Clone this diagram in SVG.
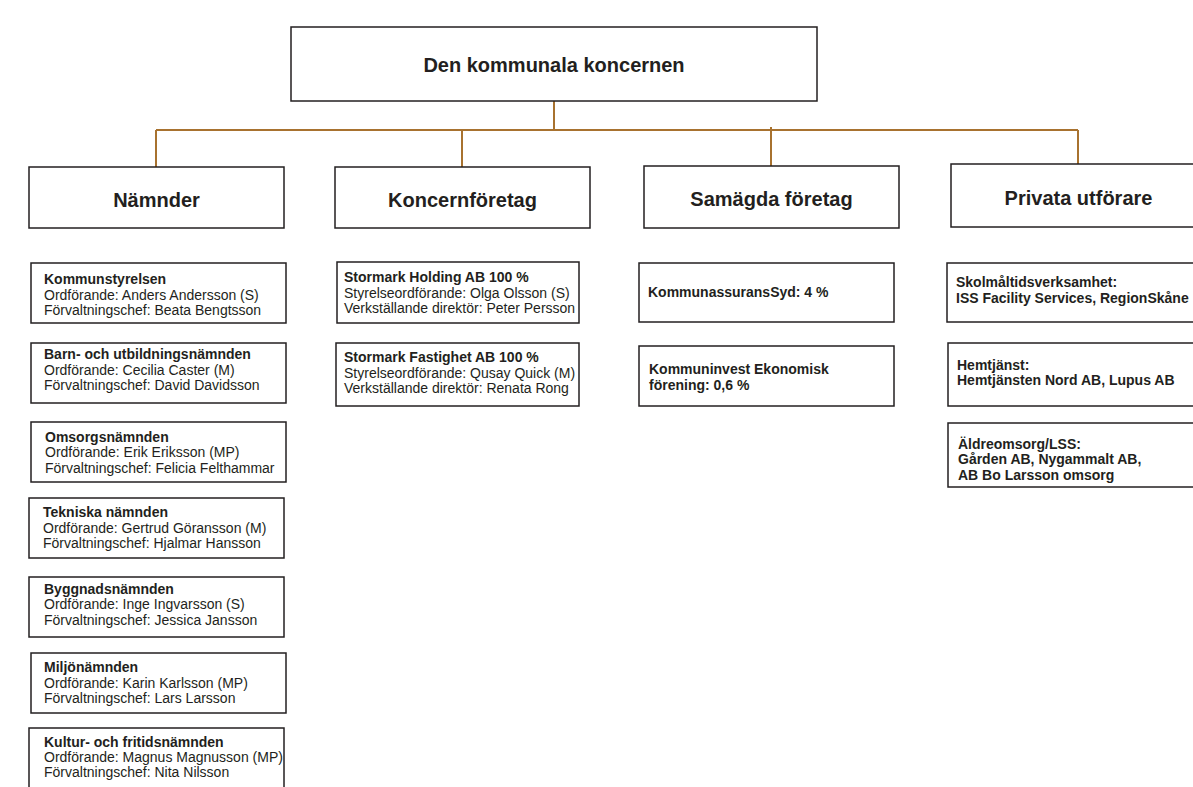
<svg xmlns="http://www.w3.org/2000/svg" width="1193" height="787" viewBox="0 0 1193 787">
<style>
.box{fill:#fff;stroke:#231F20;stroke-width:1.5}
.conn{fill:none;stroke:#A8722F;stroke-width:2}
text{font-family:"Liberation Sans",Arial,Helvetica,sans-serif;fill:#231F20}
.h1{font-size:20px;font-weight:bold;text-anchor:middle}
.b{font-size:14px;font-weight:bold}
.r{font-size:14px}
</style>
<rect width="1193" height="787" fill="#fff"/>
<g id="connectors">
<path class="conn" d="M554,101 V130"/>
<path class="conn" d="M156,130 H1078"/>
<path class="conn" d="M156,130 V167"/>
<path class="conn" d="M462,130 V167"/>
<path class="conn" d="M771,127 V166"/>
<path class="conn" d="M1078,130 V164"/>
</g>
<g id="root">
<rect class="box" x="291" y="27" width="526" height="74"/>
<text class="h1" x="554" y="72">Den kommunala koncernen</text>
</g>
<g id="namnder">
<rect class="box" x="29" y="167" width="255" height="61"/>
<text class="h1" x="156.5" y="207">Nämnder</text>
</g>
<g id="koncernforetag">
<rect class="box" x="335" y="167" width="255" height="61"/>
<text class="h1" x="462.5" y="207">Koncernföretag</text>
</g>
<g id="samagda">
<rect class="box" x="644" y="166" width="255" height="62"/>
<text class="h1" x="771.5" y="206">Samägda företag</text>
</g>
<g id="privata">
<rect class="box" x="951" y="164" width="255" height="63"/>
<text class="h1" x="1078.5" y="205">Privata utförare</text>
</g>
<g id="kommunstyrelsen">
<rect class="box" x="31" y="263" width="255" height="60"/>
<text class="b" x="44" y="284">Kommunstyrelsen</text>
<text class="r" x="44" y="300">Ordförande: Anders Andersson (S)</text>
<text class="r" x="44" y="315">Förvaltningschef: Beata Bengtsson</text>
</g>
<g id="barn">
<rect class="box" x="31" y="343" width="255" height="60"/>
<text class="b" x="44" y="359">Barn- och utbildningsnämnden</text>
<text class="r" x="44" y="375">Ordförande: Cecilia Caster (M)</text>
<text class="r" x="44" y="390">Förvaltningschef: David Davidsson</text>
</g>
<g id="omsorg">
<rect class="box" x="31" y="422" width="255" height="60"/>
<text class="b" x="45" y="442">Omsorgsnämnden</text>
<text class="r" x="45" y="457">Ordförande: Erik Eriksson (MP)</text>
<text class="r" x="45" y="473">Förvaltningschef: Felicia Felthammar</text>
</g>
<g id="tekniska">
<rect class="box" x="29" y="498" width="255" height="60"/>
<text class="b" x="43" y="517">Tekniska nämnden</text>
<text class="r" x="43" y="533">Ordförande: Gertrud Göransson (M)</text>
<text class="r" x="43" y="548">Förvaltningschef: Hjalmar Hansson</text>
</g>
<g id="byggnad">
<rect class="box" x="29" y="577" width="255" height="60"/>
<text class="b" x="44" y="594">Byggnadsnämnden</text>
<text class="r" x="44" y="609">Ordförande: Inge Ingvarsson (S)</text>
<text class="r" x="44" y="625">Förvaltningschef: Jessica Jansson</text>
</g>
<g id="miljo">
<rect class="box" x="31" y="653" width="255" height="60"/>
<text class="b" x="44" y="672">Miljönämnden</text>
<text class="r" x="44" y="688">Ordförande: Karin Karlsson (MP)</text>
<text class="r" x="44" y="703">Förvaltningschef: Lars Larsson</text>
</g>
<g id="kultur">
<rect class="box" x="29" y="728" width="255" height="70"/>
<text class="b" x="44" y="747">Kultur- och fritidsnämnden</text>
<text class="r" x="44" y="762">Ordförande: Magnus Magnusson (MP)</text>
<text class="r" x="44" y="777">Förvaltningschef: Nita Nilsson</text>
</g>
<g id="holding">
<rect class="box" x="337" y="262" width="242" height="61"/>
<text class="b" x="344" y="282">Stormark Holding AB 100 %</text>
<text class="r" x="344" y="298">Styrelseordförande: Olga Olsson (S)</text>
<text class="r" x="344" y="313">Verkställande direktör: Peter Persson</text>
</g>
<g id="fastighet">
<rect class="box" x="336" y="343" width="243" height="63"/>
<text class="b" x="344" y="362">Stormark Fastighet AB 100 %</text>
<text class="r" x="344" y="378">Styrelseordförande: Qusay Quick (M)</text>
<text class="r" x="344" y="393">Verkställande direktör: Renata Rong</text>
</g>
<g id="kommunassurans">
<rect class="box" x="639" y="263" width="255" height="59"/>
<text class="b" x="648" y="297">KommunassuransSyd: 4 %</text>
</g>
<g id="kommuninvest">
<rect class="box" x="639" y="346" width="255" height="60"/>
<text class="b" x="649" y="374">Kommuninvest Ekonomisk</text>
<text class="b" x="649" y="390">förening: 0,6 %</text>
</g>
<g id="skolmaltid">
<rect class="box" x="947" y="263" width="260" height="59"/>
<text class="b" x="956" y="287">Skolmåltidsverksamhet:</text>
<text class="b" x="956" y="303">ISS Facility Services, RegionSkåne</text>
</g>
<g id="hemtjanst">
<rect class="box" x="948" y="343" width="260" height="63"/>
<text class="b" x="957" y="370">Hemtjänst:</text>
<text class="b" x="957" y="385">Hemtjänsten Nord AB, Lupus AB</text>
</g>
<g id="aldreomsorg">
<rect class="box" x="948" y="423" width="260" height="64"/>
<text class="b" x="958" y="449">Äldreomsorg/LSS:</text>
<text class="b" x="958" y="464">Gården AB, Nygammalt AB,</text>
<text class="b" x="958" y="480">AB Bo Larsson omsorg</text>
</g>
</svg>
